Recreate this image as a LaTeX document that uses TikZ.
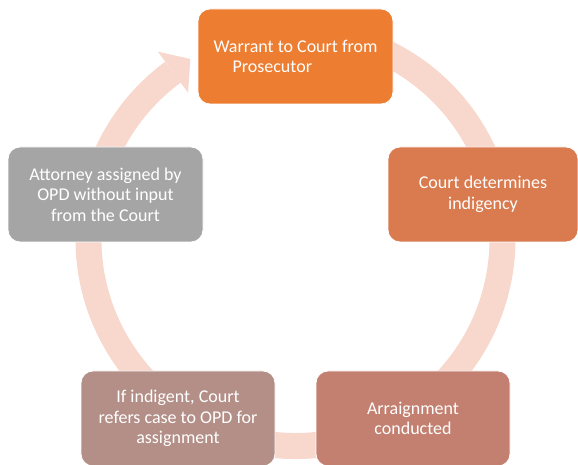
\documentclass[tikz,border=0pt]{standalone}
\usepackage{fontspec}
\setmainfont{Carlito}
\usetikzlibrary{calc}
\definecolor{ringc}{HTML}{F8D7CC}
\definecolor{cA}{HTML}{ED7D31}
\definecolor{cB}{HTML}{D97A4F}
\definecolor{cC}{HTML}{C38070}
\definecolor{cD}{HTML}{B38F88}
\definecolor{cE}{HTML}{A5A5A5}
\begin{document}
\begin{tikzpicture}[x=1pt,y=1pt,
  stepbox/.style={rounded corners=12pt, draw=white, line width=0.8pt, text=white,
    align=center, font=\fontsize{18}{20.5}\selectfont, inner sep=0pt,
    minimum width=195pt, minimum height=95pt}]
\useasboundingbox (0,0) rectangle (578,465);
\coordinate (c) at (295.5,226);
\draw[ringc, line width=26pt] (c) ++(80:207) arc[start angle=80, end angle=-233.7, radius=207];
\fill[ringc] ($(c)+(126.3:181.5)$) -- ($(c)+(126.3:232.5)$) -- ($(c)+(120.3:208.5)$) -- cycle;
\node[stepbox, fill=cA, align=left] (n1) at (295.5,408.5) {Warrant to Court from\\\hspace*{19pt}Prosecutor};
\node[stepbox, fill=cB, minimum width=190pt] (n2) at (483,270.5) {Court determines\\indigency};
\node[stepbox, fill=cC, minimum width=194pt] (n3) at (413,46.5) {Arraignment\\conducted};
\node[stepbox, fill=cD, minimum width=194pt] (n4) at (178,46.5) {If indigent, Court\\refers case to OPD for\\assignment};
\node[stepbox, fill=cE] (n5) at (105.5,270.5) {Attorney assigned by\\OPD without input\\from the Court};
\end{tikzpicture}
\end{document}
